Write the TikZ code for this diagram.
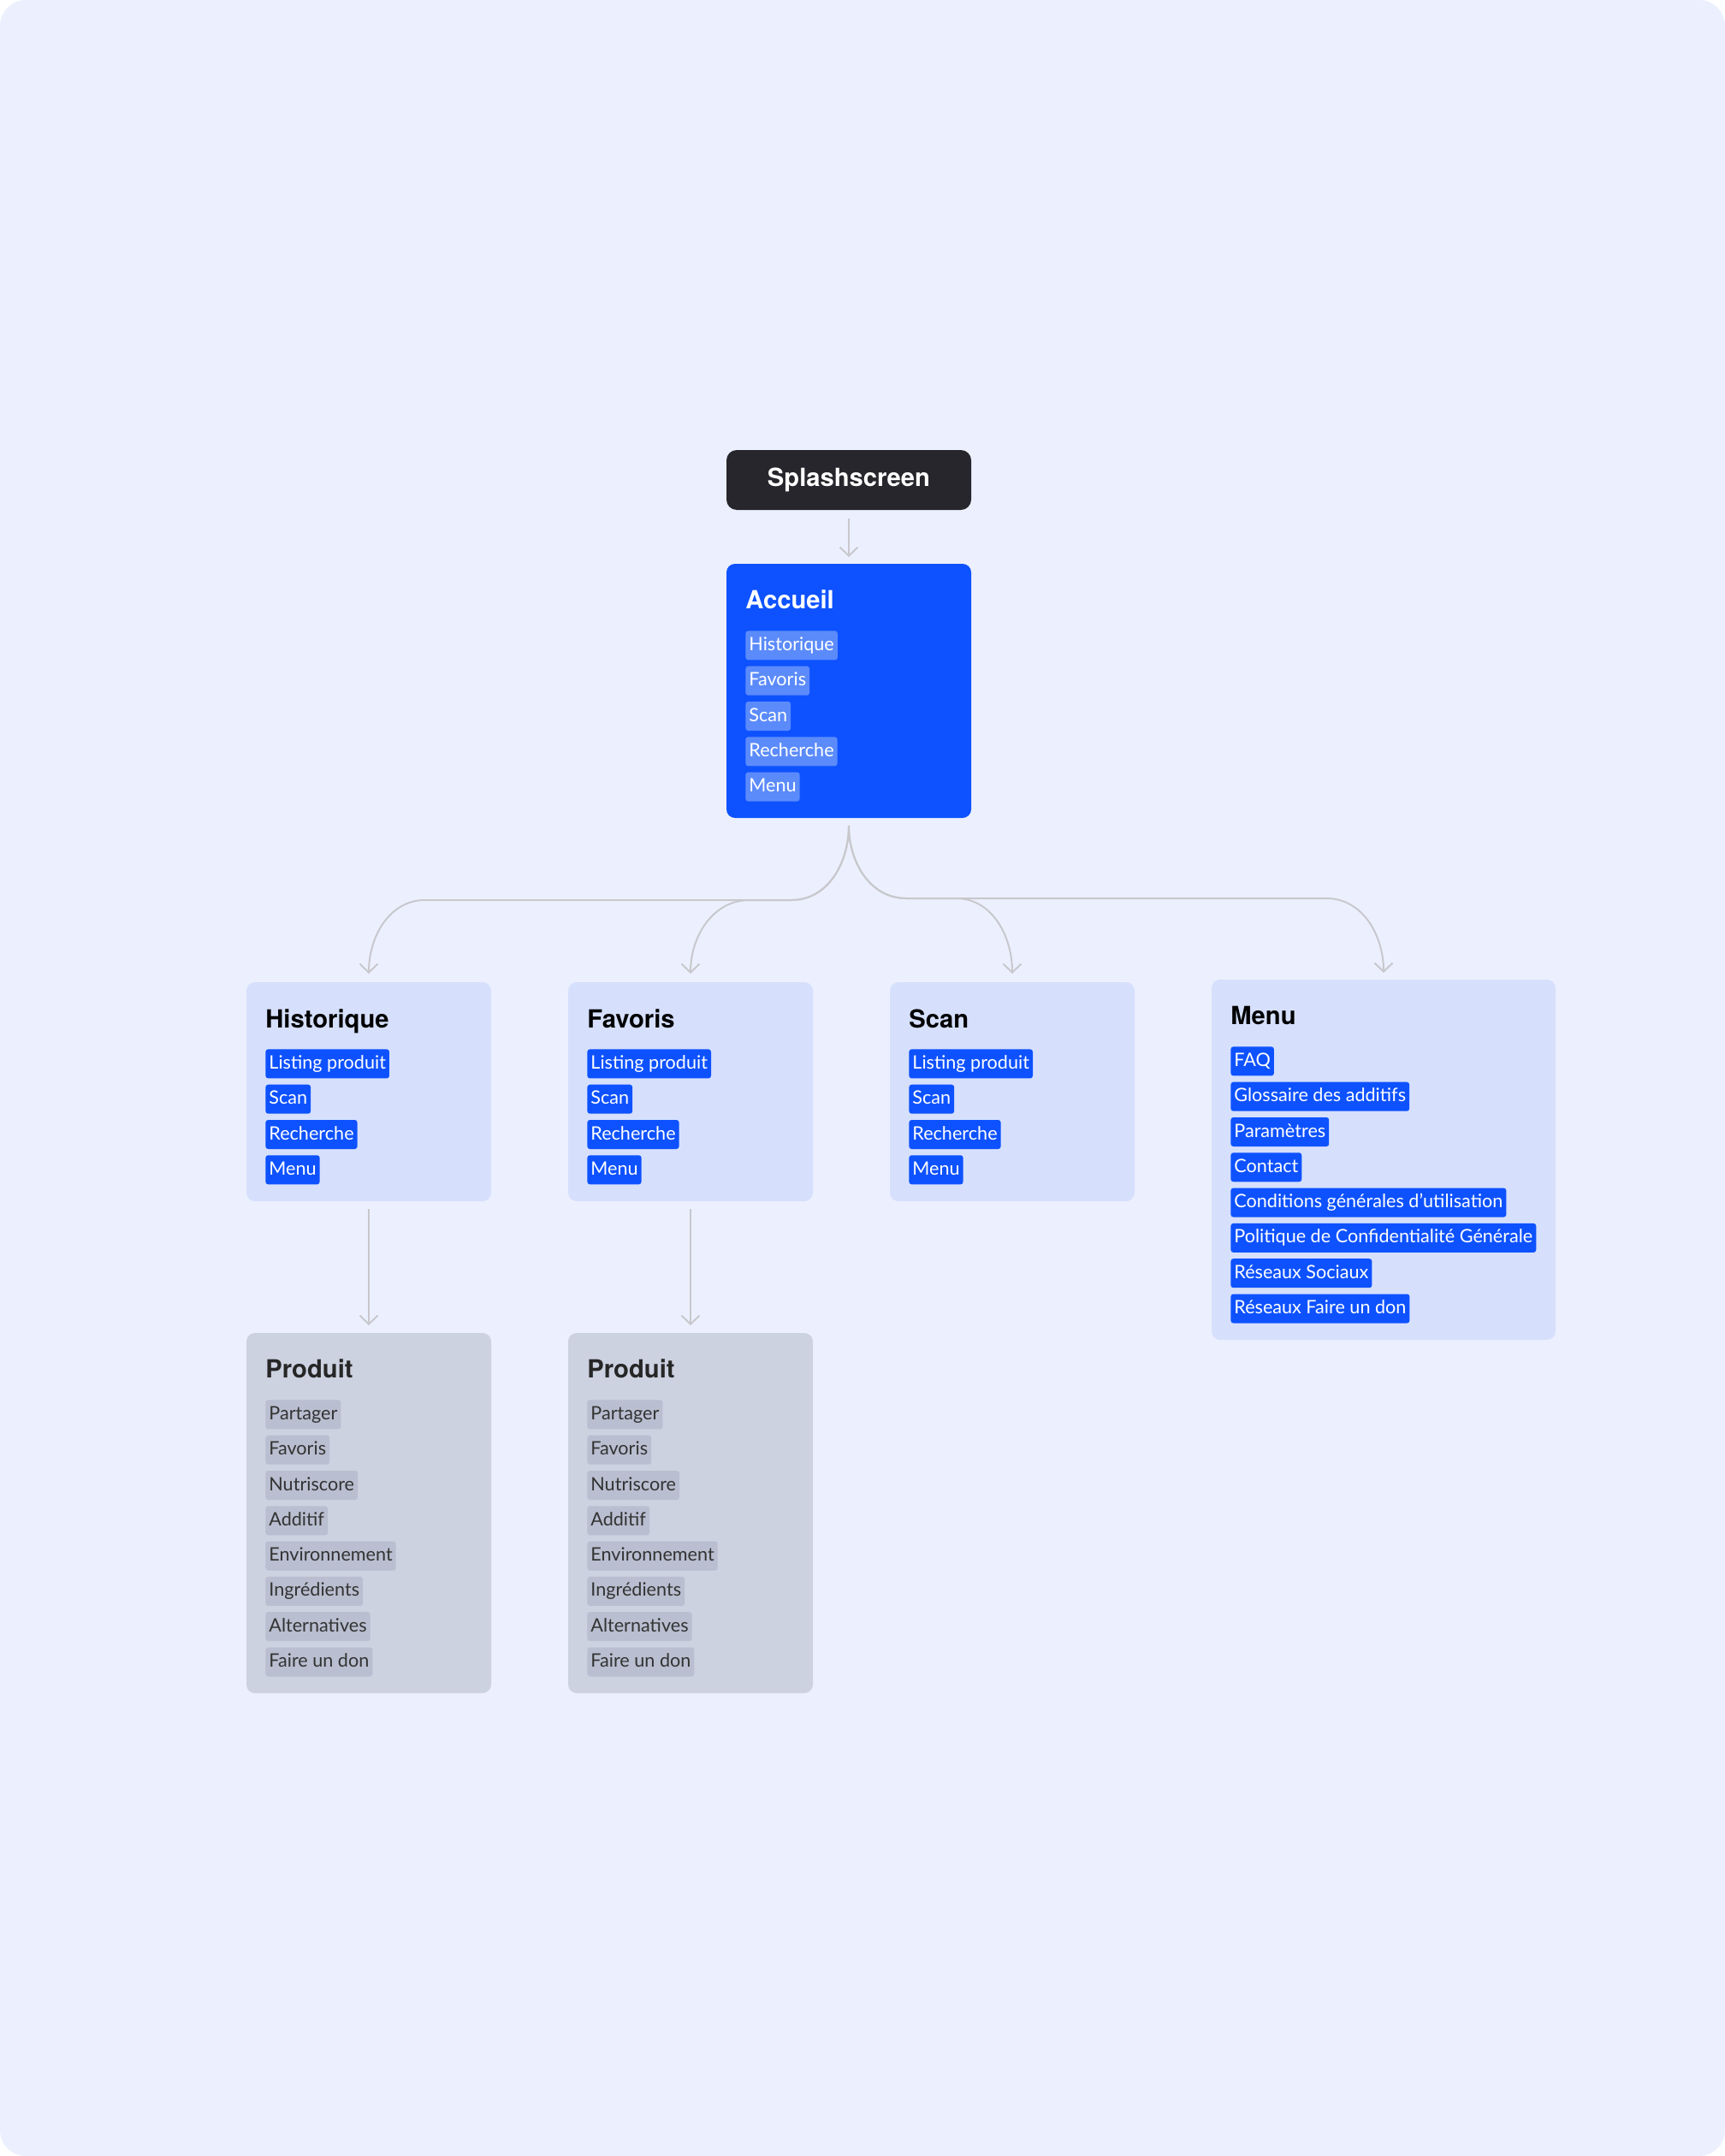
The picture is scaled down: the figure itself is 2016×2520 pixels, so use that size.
\documentclass[tikz,border=0pt]{standalone}
\usepackage{fontspec}
\setmainfont{Lato}
\newfontfamily\headfont{TeX Gyre Heros}
\usepackage{tikz}
\usetikzlibrary{arrows.meta, positioning}

\definecolor{canvas}{HTML}{ECF0FE}
\definecolor{splashcol}{HTML}{26262C}
\definecolor{accblue}{HTML}{0E52FF}
\definecolor{accitem}{HTML}{5B8BFB}
\definecolor{pagecol}{HTML}{D6E0FD}
\definecolor{prodcol}{HTML}{CDD2E1}
\definecolor{proditem}{HTML}{B9BED0}
\definecolor{linkcol}{HTML}{C8C8CD}

\begin{document}
\begin{tikzpicture}[x=0.5pt, y=-0.5pt,
      screen/.style={anchor=north west, inner sep=0pt, outer sep=0pt, rounded corners=5pt, minimum width=143pt},
      splash/.style={screen, fill=splashcol, rounded corners=6pt, minimum height=35pt, text=white, font=\headfont\bfseries\fontsize{14.6}{17}\selectfont},
      home/.style={screen, fill=accblue},
      page/.style={screen, fill=pagecol},
      prod/.style={screen, fill=prodcol},
      heading/.style={anchor=base west, inner sep=0pt, font=\headfont\bfseries\fontsize{14.6}{17}\selectfont},
      tag/.style={anchor=north west, inner xsep=2pt, inner ysep=0pt, minimum height=17pt, text height=8.5pt, text depth=2.5pt, rounded corners=1.5pt, font=\fontsize{10.8}{13}\selectfont},
      softtag/.style={tag, fill=accitem, text=white},
      bluetag/.style={tag, fill=accblue, text=white},
      greytag/.style={tag, fill=proditem, text=black!80},
      link/.style={draw=linkcol, line width=1pt, -{Straight Barb[length=5pt, width=10.5pt]}}
      ]

    \useasboundingbox (0,0) rectangle (2016,2520);
    \fill[canvas, rounded corners=15pt] (0,0) rectangle (2016,2520);

    % Screens
    \node[splash, anchor=center] (splash) at (992,561) {Splashscreen};
    \node[home, minimum height=148.5pt] (acc) at (849,659) {};
    \node[page, minimum height=128pt] (hist) at (288,1148) {};
    \node[page, minimum height=128pt] (fav) at (664,1148) {};
    \node[page, minimum height=128pt] (scan) at (1040,1148) {};
    \node[page, minimum height=210.5pt, minimum width=201pt] (menu) at (1416,1145) {};
    \node[prod, minimum height=210.5pt] (prodA) at (288,1558) {};
    \node[prod, minimum height=210.5pt] (prodB) at (664,1558) {};

    % Titles
    \node[heading, text=white] (accT) at (871,711) {Accueil};
    \node[heading, text=black] (histT) at (310,1201) {Historique};
    \node[heading, text=black] (favT) at (686,1201) {Favoris};
    \node[heading, text=black] (scanT) at (1062,1201) {Scan};
    \node[heading, text=black] (menuT) at (1438,1197) {Menu};
    \node[heading, text=black!85] (prodAT) at (310,1610) {Produit};
    \node[heading, text=black!85] (prodBT) at (686,1610) {Produit};

    % Items
    \foreach \t [count=\i] in {Historique, Favoris, Scan, Recherche, Menu}
      \node[softtag] (acc-\i) at (871, {737+41.3*(\i-1)}) {\t};
    \foreach \x/\n in {310/hist, 686/fav, 1062/scan}
      \foreach \t [count=\i] in {Listing produit, Scan, Recherche, Menu}
        \node[bluetag] (\n-\i) at (\x, {1226+41.3*(\i-1)}) {\t};
    \foreach \t [count=\i] in {FAQ, Glossaire des additifs, Paramètres, Contact, Conditions générales d’utilisation, Politique de Confidentialité Générale, Réseaux Sociaux, Réseaux Faire un don}
      \node[bluetag] (menu-\i) at (1438, {1223+41.3*(\i-1)}) {\t};
    \foreach \x/\n in {310/prodA, 686/prodB}
      \foreach \t [count=\i] in {Partager, Favoris, Nutriscore, Additif, Environnement, Ingrédients, Alternatives, Faire un don}
        \node[greytag] (\n-\i) at (\x, {1636+41.3*(\i-1)}) {\t};

    % Arrows
    \draw[link, shorten <=5pt, shorten >=4pt] (splash) -- (acc.north);
    \draw[link] ([yshift=-4.5pt]acc.south) to[out=-90, in=0] (925,1052) -- (497,1052)
      to[out=180, in=90] ([yshift=5pt]hist.north);
    \draw[link] ([yshift=-4.5pt]acc.south) to[out=-90, in=0] (925,1052) -- (876,1052)
      to[out=180, in=90] ([yshift=5pt]fav.north);
    \draw[link] ([yshift=-4.5pt]acc.south) to[out=-90, in=180] (1059,1050) -- (1117,1050)
      to[out=0, in=90] ([yshift=5pt]scan.north);
    \draw[link] ([yshift=-4.5pt]acc.south) to[out=-90, in=180] (1059,1050) -- (1550,1050)
      to[out=0, in=90] ([yshift=4pt]menu.north);
    \draw[link, shorten <=4.5pt, shorten >=4.5pt] (hist.south) -- (prodA.north);
    \draw[link, shorten <=4.5pt, shorten >=4.5pt] (fav.south) -- (prodB.north);

\end{tikzpicture}
\end{document}
